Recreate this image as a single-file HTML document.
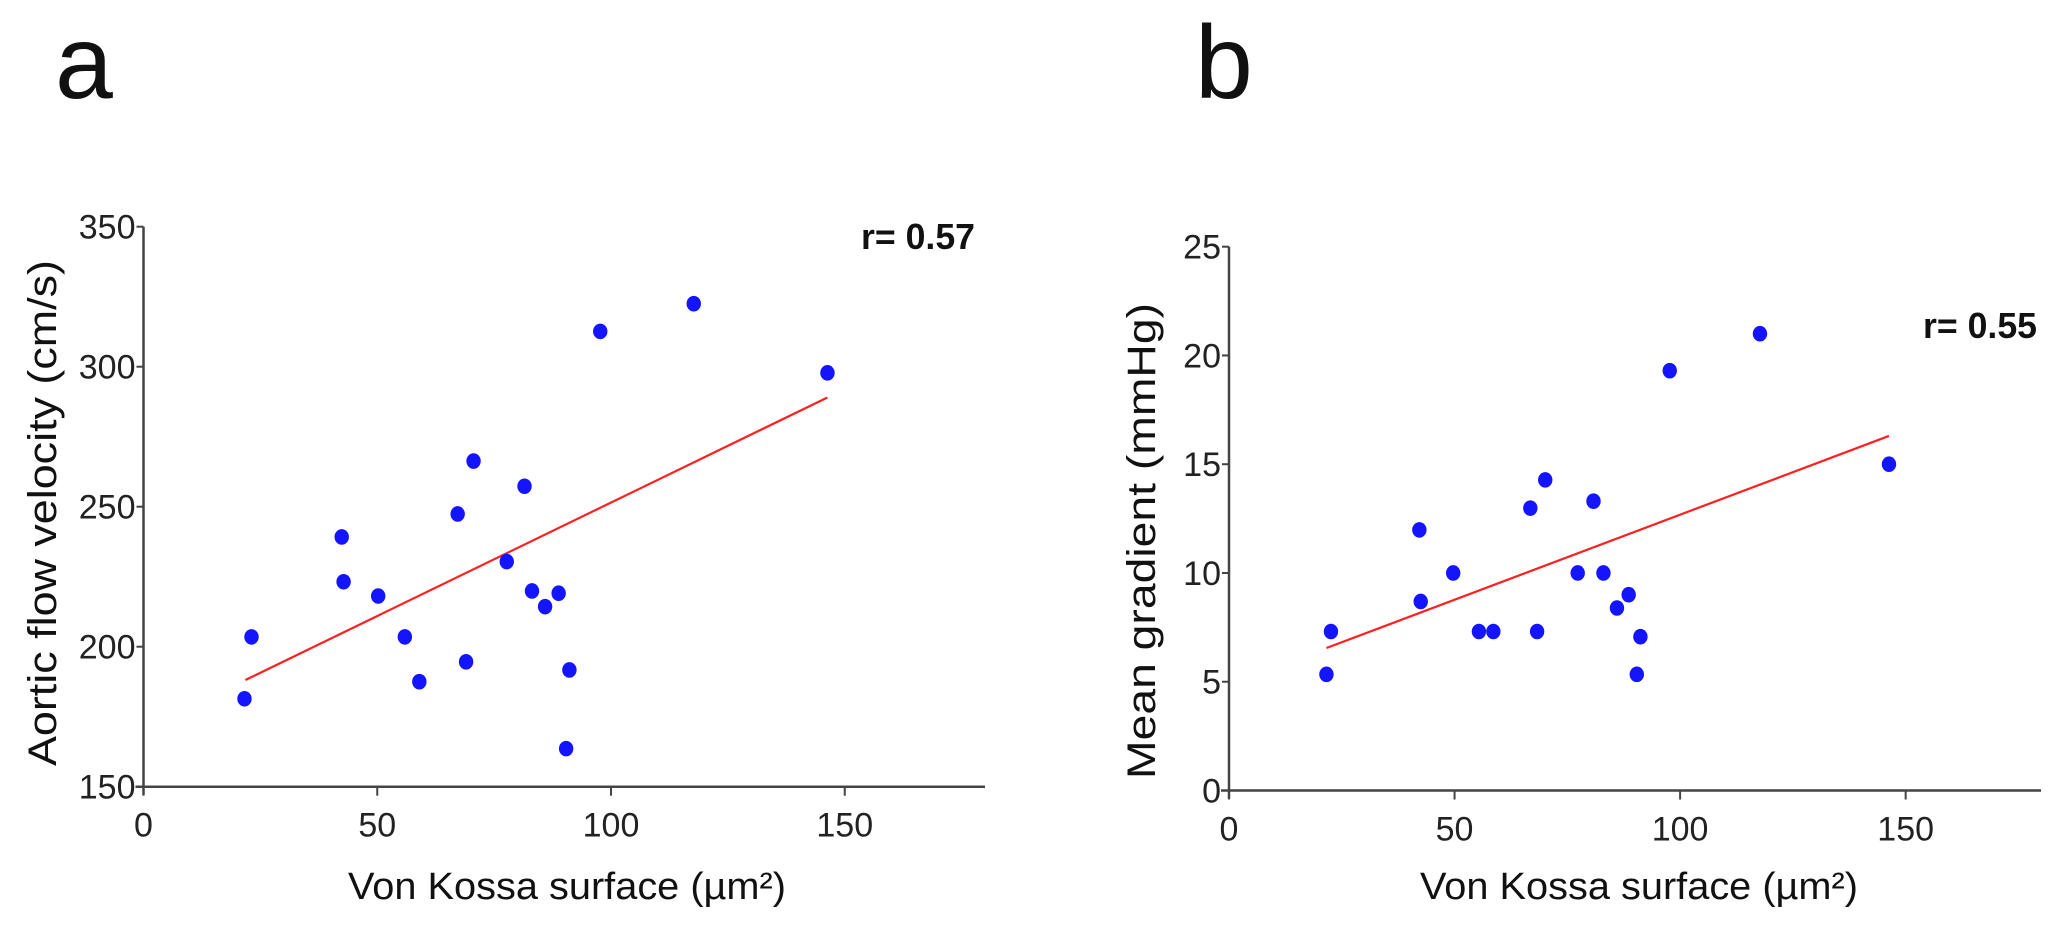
<!DOCTYPE html>
<html><head><meta charset="utf-8"><style>
html,body{margin:0;padding:0;background:#fff;}
svg{display:block;font-family:"Liberation Sans",Arial,sans-serif;}
</style></head><body>
<svg id="fig" width="2071" height="929" viewBox="0 0 2071 929" xmlns="http://www.w3.org/2000/svg">
<rect width="2071" height="929" fill="#fff"/>
<text x="55" y="98" font-size="104" fill="#111">a</text>
<text x="1195" y="98" font-size="104" fill="#111">b</text>
<g id="pa"></g>
<g id="pb"></g>
</svg>
<script>
// Panel a data
const aX = [21.6, 23.1, 42.4, 42.8, 50.2, 55.9, 59.0, 67.2, 69.0, 70.6, 77.7, 81.5, 83.1, 85.9, 88.8, 90.4, 91.1, 97.7, 117.7, 146.3];
const aY = [181.4, 203.5, 239.2, 223.2, 218.1, 203.5, 187.5, 247.4, 194.6, 266.3, 230.4, 257.3, 219.9, 214.3, 219.1, 163.6, 191.7, 312.6, 322.5, 297.8];
const aFit = [[21.8, 188.1], [146.3, 289.0]];
const aYTicks = [150, 200, 250, 300, 350];
// Panel b data
const bX = [21.6, 22.6, 42.2, 42.5, 49.7, 55.4, 58.6, 66.8, 68.3, 70.1, 77.3, 80.8, 83.0, 86.0, 88.6, 90.4, 91.2, 97.7, 117.7, 146.3];
const bY = [5.34, 7.31, 11.98, 8.69, 10.0, 7.31, 7.31, 12.98, 7.31, 14.28, 10.0, 13.3, 10.0, 8.39, 9.0, 5.34, 7.07, 19.3, 21.0, 15.0];
const bFit = [[21.6, 6.55], [146.3, 16.3]];
const bYTicks = [0, 5, 10, 15, 20, 25];
const xTicks = [0, 50, 100, 150];

const NS = "http://www.w3.org/2000/svg";
function mk(parent, tag, attrs, text) {
  const e = document.createElementNS(NS, tag);
  for (const k in attrs) e.setAttribute(k, attrs[k]);
  if (text !== undefined) e.textContent = text;
  parent.appendChild(e);
  return e;
}

function panel(g, cfg) {
  const sx = v => cfg.x0 + (v - 0) * (cfg.x1 - cfg.x0) / 180;
  const sy = v => cfg.yb - (v - cfg.ymin) * (cfg.yb - cfg.yt) / (cfg.ymax - cfg.ymin);
  // axes
  const ya = mk(g, "line", {x1: cfg.x0, y1: sy(cfg.ymax), x2: cfg.x0, y2: cfg.yb + 8, stroke: "#444", "stroke-width": 2.5});
  
  
  const xa = mk(g, "line", {x1: cfg.x0 - 8, y1: cfg.yb, x2: cfg.x1, y2: cfg.yb, stroke: "#444", "stroke-width": 2.5});
  
  
  cfg.yTicks.forEach(t => {
    const y = sy(t);
    const tl = mk(g, "line", {x1: cfg.x0 - 7, y1: y, x2: cfg.x0, y2: y, stroke: "#444", "stroke-width": 2});
    
    
    const tx = mk(g, "text", {x: cfg.x0 - 8, y: y + 12, "font-size": 34, "text-anchor": "end", fill: "#222"}, String(t));
    
    
  });
  xTicks.forEach(t => {
    const x = sx(t);
    const tl = mk(g, "line", {x1: x, y1: cfg.yb, x2: x, y2: cfg.yb + 9, stroke: "#444", "stroke-width": 2});
    
    
    const tx = mk(g, "text", {x: x, y: cfg.yb + 50, "font-size": 34, "text-anchor": "middle", fill: "#222"}, String(t));
    
    
  });
  // titles
  const xt = mk(g, "text", {x: cfg.xtc, y: 899, "font-size": 38, "text-anchor": "middle", fill: "#111", textLength: 438, lengthAdjust: "spacingAndGlyphs"}, "Von Kossa surface (\u00b5m\u00b2)");
  
  
  const yt = mk(g, "text", {x: 0, y: 0, "font-size": 40, "text-anchor": "middle", fill: "#111", textLength: cfg.ytl, lengthAdjust: "spacingAndGlyphs", transform: `translate(${cfg.ytx},${cfg.ytc}) rotate(-90)`}, cfg.ytitle);
  
  
  // r label
  const r = mk(g, "text", {x: cfg.rx, y: cfg.ry, "font-size": 36, "font-weight": "bold", fill: "#111", textLength: 114, lengthAdjust: "spacingAndGlyphs"}, cfg.rtext);
  
  
  // fit line
  const fl = mk(g, "line", {x1: sx(cfg.fit[0][0]), y1: sy(cfg.fit[0][1]), x2: sx(cfg.fit[1][0]), y2: sy(cfg.fit[1][1]), stroke: "#ff2020", "stroke-width": 2.2});
  
  
  // points
  cfg.xs.forEach((v, i) => {
    const c = mk(g, "ellipse", {cx: sx(v), cy: sy(cfg.ys[i]), rx: 7.2, ry: 7.8, fill: "#1414ff"});
    
    
  });
}

panel(document.getElementById("pa"), {
  x0: 143.5, x1: 985, yb: 786.7, yt: 226.7, ymin: 150, ymax: 350,
  yTicks: aYTicks, xs: aX, ys: aY, fit: aFit,
  xtc: 567, ytx: 56, ytc: 513, ytl: 506, ytitle: "Aortic flow velocity (cm/s)",
  rx: 861, ry: 249, rtext: "r= 0.57"
});
panel(document.getElementById("pb"), {
  x0: 1229, x1: 2041, yb: 790.5, yt: 246.7, ymin: 0, ymax: 25,
  yTicks: bYTicks, xs: bX, ys: bY, fit: bFit,
  xtc: 1639, ytx: 1155, ytc: 541, ytl: 476, ytitle: "Mean gradient (mmHg)",
  rx: 1923, ry: 338, rtext: "r= 0.55"
});
</script>
</body></html>
